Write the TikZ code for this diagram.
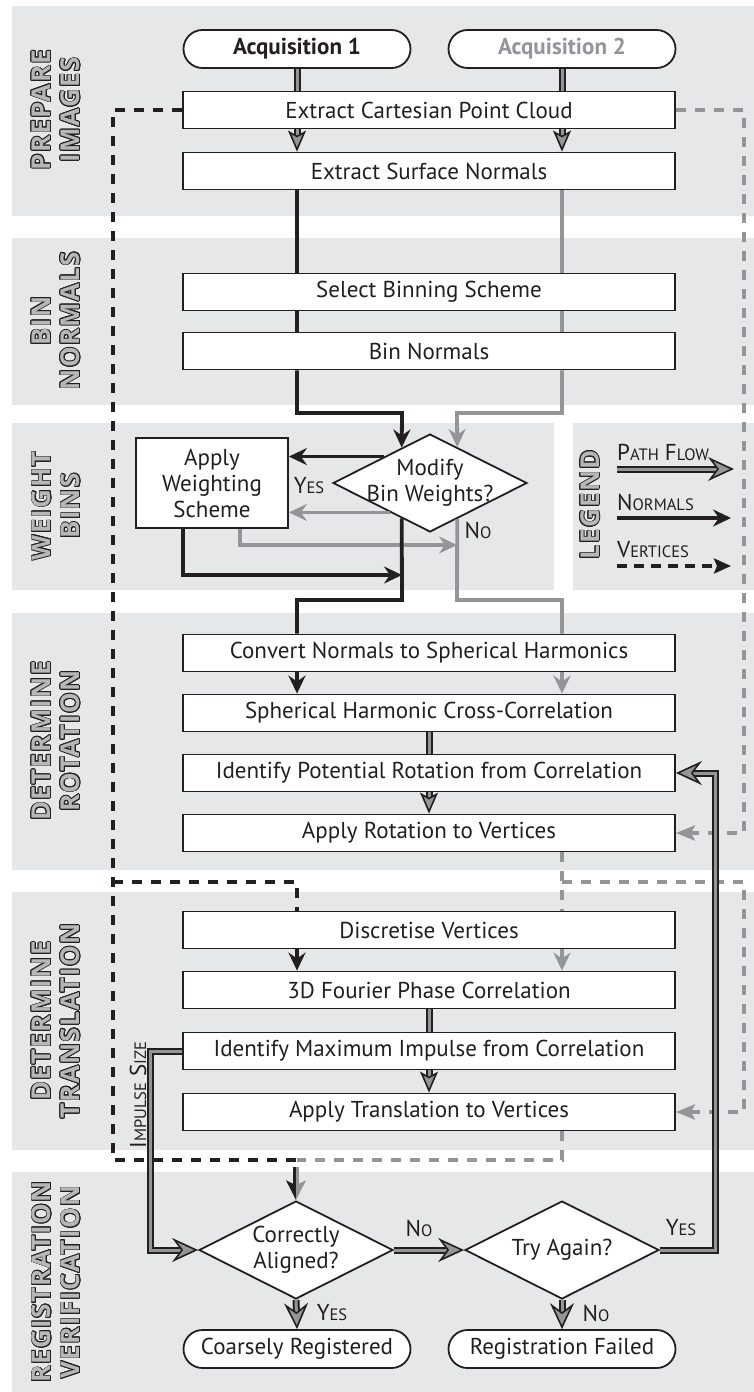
\documentclass[tikz,border=0pt]{standalone}
\usepackage{fontspec}
\setmainfont{PT Sans}
\newfontfamily\labelfamily[LetterSpace=5]{Open Sans}
\usetikzlibrary{arrows.meta,shapes.geometric,calc}

\definecolor{bandgray}{HTML}{E6E7E8}
\definecolor{flowgray}{HTML}{939598}
\definecolor{inkdark}{HTML}{231F20}
\definecolor{labelgray}{HTML}{B5B7B9}

\newcommand\boxfont{\fontsize{23}{26}\selectfont}
\newcommand\bandfont{\labelfamily\fontsize{26}{29}\selectfont\bfseries}
% hand made small caps
\newcommand\fsc[2]{#1{\fontsize{16.5}{16.5}\selectfont#2}}
% outlined band title: dark copies round a grey one
\newcommand\bandtitle[3]{%
  \foreach \a in {0,22.5,...,337.5}
    \node[bandlabel, text=inkdark, shift={(\a:0.75pt)}] at (#1) {#3};
  \node[bandlabel] (#2) at (#1) {#3};}

\tikzset{
  box/.style={draw=inkdark, line width=1.8pt, fill=white, minimum width=492pt,
    minimum height=37pt, inner sep=0pt, font=\boxfont, text=inkdark},
  term/.style={box, rounded corners=19pt, minimum width=227pt, minimum height=38pt},
  dec/.style={box, shape=diamond, minimum width=194pt, minimum height=98pt},
  band/.style={fill=bandgray},
  bandlabel/.style={rotate=90, align=center, font=\bandfont, text=labelgray, inner sep=0pt},
  tag/.style={font=\boxfont, text=inkdark, inner sep=0pt},
  nrm/.style={draw=inkdark, line width=3.8pt},
  gnrm/.style={nrm, draw=flowgray},
  nrmarr/.style={nrm, -{Stealth[length=18pt,width=17pt,inset=6pt]}},
  gnrmarr/.style={gnrm, -{Stealth[length=18pt,width=17pt,inset=6pt]}},
  vtx/.style={draw=inkdark, line width=4.2pt, dash pattern=on 10pt off 9pt},
  gvtx/.style={vtx, draw=flowgray},
  vtxarr/.style={-{Stealth[length=19pt,width=15pt,inset=4pt]}},
  flow/.style={draw=inkdark, line width=2pt, double=flowgray, double distance=3pt},
  flowarr/.style={flow, -{Stealth[length=26pt,width=24pt,inset=9pt,fill=flowgray,line width=1.6pt]}},
  sflowarr/.style={flow, -{Stealth[length=21pt,width=18pt,inset=5pt,fill=flowgray,line width=1.6pt]}}
}

\begin{document}
\begin{tikzpicture}[x=1pt,y=-1pt]
\useasboundingbox (0,0) rectangle (754,1392);

% bands
\fill[band] (12,6) rectangle (754,216);
\fill[band] (12,238) rectangle (754,405);
\fill[band] (12,423) rectangle (554,590);
\fill[band] (573,423) rectangle (754,590);
\fill[band] (12,613) rectangle (754,870);
\fill[band] (12,892) rectangle (754,1150);
\fill[band] (12,1172) rectangle (754,1392);

\bandtitle{56,110}{lbprep}{PREPARE\\IMAGES}
\bandtitle{56,321}{lbbin}{BIN\\NORMALS}
\bandtitle{56,506}{lbweight}{WEIGHT\\BINS}
\bandtitle{56,741}{lbrot}{DETERMINE\\ROTATION}
\bandtitle{56,1021}{lbtrans}{DETERMINE\\TRANSLATION}
\bandtitle{56,1282}{lbverif}{REGISTRATION\\VERIFICATION}
\bandtitle{590,505}{lblegend}{LEGEND}

% steps
\node[term] (acqA) at (297,49) {\bfseries Acquisition 1};
\node[term, text=flowgray] (acqB) at (562,49) {\bfseries Acquisition 2};
\node[box] (cloud) at (429,110) {Extract Cartesian Point Cloud};
\node[box] (normals) at (429,171) {Extract Surface Normals};
\node[box] (scheme) at (429,292) {Select Binning Scheme};
\node[box] (binn) at (429,351) {Bin Normals};
\node[dec] (modify) at (430,483) {};
\node[tag, align=center] (modifytxt) at (modify) {Modify\\Bin Weights?};
\node[box, minimum width=152pt, minimum height=90pt, align=center] (weigh) at (212,483) {Apply\\Weighting\\Scheme};
\node[box] (convert) at (429,653) {Convert Normals to Spherical Harmonics};
\node[box] (xcorr) at (429,713) {Spherical Harmonic Cross-Correlation};
\node[box] (rotid) at (429,773) {Identify Potential Rotation from Correlation};
\node[box] (rotapp) at (429,833) {Apply Rotation to Vertices};
\node[box] (discr) at (429,930) {Discretise Vertices};
\node[box] (fourier) at (429,990) {3D Fourier Phase Correlation};
\node[box] (impid) at (429,1051) {Identify Maximum Impulse from Correlation};
\node[box] (transapp) at (429,1112) {Apply Translation to Vertices};
\node[dec] (aligned) at (296,1250) {};
\node[tag, align=center] (alignedtxt) at (aligned) {Correctly\\Aligned?};
\node[dec] (again) at (562,1250) {};
\node[tag] (againtxt) at (again) {Try Again?};
\node[term] (coarse) at (297,1349) {Coarsely Registered};
\node[term] (failed) at (562,1349) {Registration Failed};

% branch words
\node[tag] (yesw) at (309,486) {\fsc{Y}{ES}};
\node[tag] (now) at (478,530) {\fsc{N}{O}};
\node[tag] (noal) at (419,1228) {\fsc{N}{O}};
\node[tag] (yesag) at (681,1228) {\fsc{Y}{ES}};
\node[tag] (yesal) at (332,1313) {\fsc{Y}{ES}};
\node[tag] (noag) at (596,1313) {\fsc{N}{O}};
\node[tag, rotate=90] (impsize) at (138,1095) {\fsc{I}{MPULSE} \fsc{S}{IZE}};

% turning points
\coordinate (vL) at (113,0);
\coordinate (vR) at (744,0);
\coordinate (vtop) at (0,882);
\coordinate (vbot) at (0,1160);
\coordinate (nA) at (402,413);
\coordinate (nB) at (457,413);
\coordinate (jA) at (402,600);
\coordinate (jB) at (457,600);
\coordinate (rA) at (402,575);
\coordinate (rB) at (457,545);
\coordinate (wA) at (183,0);
\coordinate (wB) at (240,0);
\coordinate (dA1) at ($(modify.west)!0.711!(modify.north)$);
\coordinate (dB1) at ($(modify.north)!0.278!(modify.east)$);
\coordinate (dA2) at ($(modify.west)!0.711!(modify.south)$);
\coordinate (dB2) at ($(modify.south)!0.278!(modify.east)$);
\coordinate (yA) at ($(modify.west)!0.53!(modify.north)$);
\coordinate (yB) at ($(modify.west)!0.59!(modify.south)$);
\coordinate (fL) at (150,0);
\coordinate (fR) at (715,0);
\coordinate (mA) at ($(aligned.north)+(0,-33)$);

% vertices
\draw[vtx] (cloud.west) -| (vL |- vbot) -- (vbot -| acqA);
\draw[vtx] (vL |- vtop) -| (discr.north -| acqA);
\draw[gvtx, vtxarr] (cloud.east) -| (vR |- rotapp.east) -- (rotapp.east);
\draw[gvtx] (rotapp.south -| acqB) -- (discr.north -| acqB);
\draw[gvtx, vtxarr] (vtop -| acqB) -| (vR |- transapp.east) -- (transapp.east);
\draw[gvtx] (transapp.south -| acqB) |- (vbot -| acqA);
\draw[draw=inkdark, line width=2.6pt, -{Stealth[length=17pt,width=17pt,inset=4pt,harpoon,swap]}]
  ([xshift=-1.3pt]mA) -- ([xshift=-1.3pt]aligned.north);
\draw[draw=flowgray, line width=2.6pt, -{Stealth[length=17pt,width=17pt,inset=4pt,harpoon]}]
  ([xshift=1.3pt]mA) -- ([xshift=1.3pt]aligned.north);

% normals
\draw[nrm] (normals.south -| acqA) -- (scheme.north -| acqA);
\draw[gnrm] (normals.south -| acqB) -- (scheme.north -| acqB);
\draw[nrm] (scheme.south -| acqA) -- (binn.north -| acqA);
\draw[gnrm] (scheme.south -| acqB) -- (binn.north -| acqB);
\draw[nrmarr] (binn.south -| acqA) |- (nA) -- (dA1);
\draw[gnrmarr] (binn.south -| acqB) |- (nB) -- (dB1);
\draw[nrmarr] (yA) -- (yA -| weigh.east);
\draw[gnrmarr] (yB) -- (yB -| weigh.east);
\draw[nrmarr] (weigh.south -| wA) |- (rA);
\draw[gnrmarr] (weigh.south -| wB) |- (rB);
\draw[nrm] (dA2) -- (jA) -| (convert.north -| acqA);
\draw[gnrm] (dB2) -- (jB) -| (convert.north -| acqB);
\draw[nrmarr] (convert.south -| acqA) -- (xcorr.north -| acqA);
\draw[gnrmarr] (convert.south -| acqB) -- (xcorr.north -| acqB);
\draw[nrmarr] (discr.south -| acqA) -- (fourier.north -| acqA);
\draw[gnrmarr] (discr.south -| acqB) -- (fourier.north -| acqB);

% path flow
\draw[flow] (acqA.south) -- (cloud.north -| acqA);
\draw[flow] (acqB.south) -- (cloud.north -| acqB);
\draw[sflowarr] (cloud.south -| acqA) -- (normals.north -| acqA);
\draw[sflowarr] (cloud.south -| acqB) -- (normals.north -| acqB);
\draw[flow] (xcorr.south) -- (rotid.north);
\draw[sflowarr] (rotid.south) -- (rotapp.north);
\draw[flow] (fourier.south) -- (impid.north);
\draw[sflowarr] (impid.south) -- (transapp.north);
\draw[flowarr] (impid.west) -| (fL |- aligned.west) -- (aligned.west);
\draw[flowarr] (aligned.east) -- (again.west);
\draw[flowarr] (again.east) -| (fR |- rotid.east) -- (rotid.east);
\draw[flowarr] (aligned.south) -- (coarse.north);
\draw[flowarr] (again.south) -- (failed.north);

% legend
\node[tag, anchor=base west] (lgpath) at (617,460) {\fsc{P}{ATH} \fsc{F}{LOW}};
\node[tag, anchor=base west] (lgnorm) at (617,510) {\fsc{N}{ORMALS}};
\node[tag, anchor=base west] (lgvert) at (617,557) {\fsc{V}{ERTICES}};
\coordinate (lgpathend) at (734,469);
\coordinate (lgnormend) at (731,518);
\coordinate (lgvertend) at (731,566);
\draw[flowarr] (lgpathend -| lgpath.west) -- (lgpathend);
\draw[nrmarr] (lgnormend -| lgnorm.west) -- (lgnormend);
\draw[vtx, dash pattern=on 10pt off 7pt, -{Stealth[length=17pt,width=15pt,inset=3pt]}] (lgvertend -| lgvert.west) -- (lgvertend);
\end{tikzpicture}
\end{document}
